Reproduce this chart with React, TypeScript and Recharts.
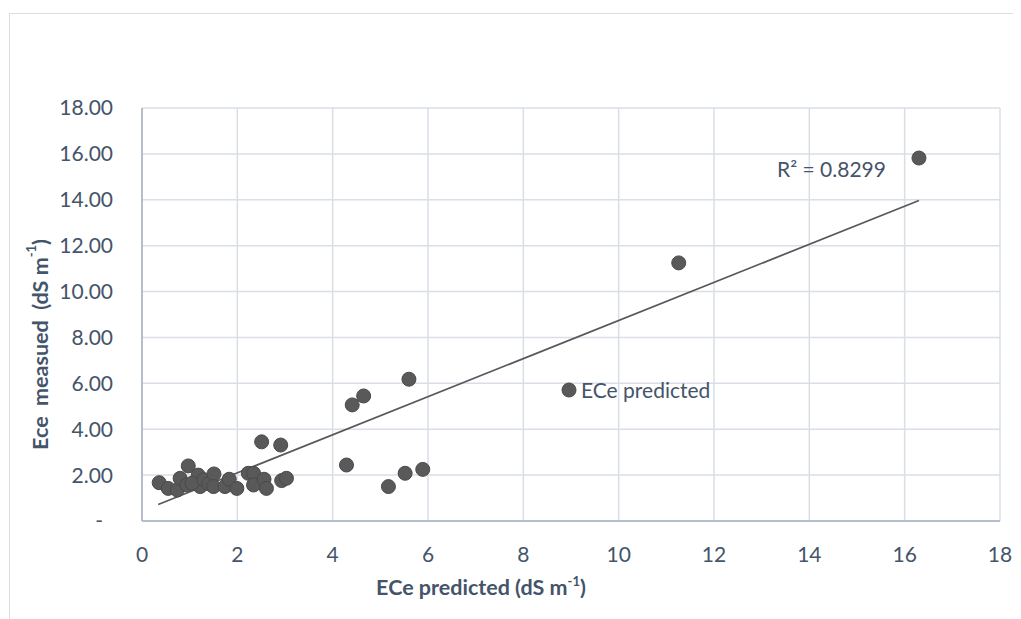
import React from 'react';
import {
  ScatterChart, Scatter, XAxis, YAxis, CartesianGrid, Legend, Label, Customized,
} from 'recharts';

const measuredPoints = [
  { x: 0.36, y: 1.67 }, { x: 0.55, y: 1.42 }, { x: 0.74, y: 1.35 }, { x: 0.80, y: 1.86 },
  { x: 0.94, y: 1.57 }, { x: 0.97, y: 2.40 }, { x: 1.18, y: 2.00 }, { x: 1.22, y: 1.50 },
  { x: 1.05, y: 1.65 }, { x: 1.30, y: 1.80 }, { x: 1.40, y: 1.62 }, { x: 1.51, y: 2.05 },
  { x: 1.50, y: 1.50 }, { x: 1.74, y: 1.50 }, { x: 1.83, y: 1.82 }, { x: 1.99, y: 1.42 },
  { x: 2.23, y: 2.08 }, { x: 2.34, y: 2.08 }, { x: 2.34, y: 1.57 }, { x: 2.56, y: 1.82 },
  { x: 2.61, y: 1.42 }, { x: 2.93, y: 1.76 }, { x: 3.03, y: 1.86 }, { x: 2.51, y: 3.45 },
  { x: 2.91, y: 3.31 }, { x: 4.29, y: 2.44 }, { x: 5.17, y: 1.50 }, { x: 5.52, y: 2.08 },
  { x: 5.89, y: 2.25 }, { x: 4.41, y: 5.06 }, { x: 4.65, y: 5.45 }, { x: 5.60, y: 6.18 },
  { x: 11.26, y: 11.25 }, { x: 16.30, y: 15.82 },
];

const trendLine = [
  { x: 0.34, y: 0.72 },
  { x: 16.30, y: 13.97 },
];

const xTicks = [0, 2, 4, 6, 8, 10, 12, 14, 16, 18];
const yTicks = [0, 2, 4, 6, 8, 10, 12, 14, 16, 18];
const seriesName = 'ECe predicted';
const r2Text = 'R\u00B2 = 0.8299';

const FONT = 'Lato, "Open Sans", sans-serif';
const TEXT = '#44546a';
const POINT = '#595959';

const Dot = (props: any) => {
  const { cx, cy } = props;
  if (cx == null || cy == null) return <g />;
  return <circle cx={cx} cy={cy} r={7} fill={POINT} stroke="#4a4a4a" strokeWidth={1} />;
};

const NoShape = () => <g />;

const YTick = (props: any) => {
  const { x, y, payload } = props;
  const v = payload.value;
  const txt = v === 0 ? '-' : v.toFixed(2);
  return (
    <text x={v === 0 ? x - 10 : x} y={y} dy="0.355em" textAnchor="end" fill={TEXT}
      fontSize={21} fontFamily={FONT}>{txt}</text>
  );
};

const XTitle = (props: any) => {
  const vb = props.viewBox;
  const cx = vb.x + vb.width / 2 - 90;
  return (
    <text x={cx} y={vb.y + 74} textAnchor="middle" fill={TEXT} fontSize={21.5}
      fontWeight={700} fontFamily={FONT}>
      ECe predicted (dS m<tspan dy={-9} fontSize={13}>-1</tspan><tspan dy={9}>)</tspan>
    </text>
  );
};

const YTitle = (props: any) => {
  const vb = props.viewBox;
  const cx = 32;
  const cy = vb.y + vb.height / 2 + 30;
  return (
    <text x={cx} y={cy} transform={`rotate(-90 ${cx} ${cy})`} textAnchor="middle"
      dominantBaseline="central" fill={TEXT} fontSize={21.5} fontWeight={700} fontFamily={FONT}>
      {'Ece\u00A0 measued\u00A0 (dS m'}<tspan dy={-9} fontSize={13}>-1</tspan><tspan dy={9}>)</tspan>
    </text>
  );
};

const R2Label = () => (
  <text x={769} y={169} fill={TEXT} fontSize={21} fontFamily={FONT}>{r2Text}</text>
);

const LegendContent = () => (
  <div style={{ display: 'flex', alignItems: 'center', fontFamily: FONT, fontSize: 21, color: TEXT, whiteSpace: 'nowrap' }}>
    <svg width={16} height={16} style={{ marginRight: 4 }}>
      <circle cx={8} cy={8} r={7} fill={POINT} stroke="#4a4a4a" strokeWidth={1} />
    </svg>
    <span>{seriesName}</span>
  </div>
);

export default function App() {
  return (
    <div style={{ position: 'relative', width: 1013, height: 611, overflow: 'hidden', background: '#fff' }}>
      <div style={{ position: 'absolute', left: 1, top: 5, width: 2000, height: 2000, border: '1.5px solid #dadde4', boxSizing: 'border-box' }} />
      <div style={{ position: 'absolute', left: 0, top: 0 }}>
        <ScatterChart width={1013} height={611} margin={{ top: 100, right: 21, bottom: 38, left: 0 }}>
          <CartesianGrid stroke="#d9dee7" strokeWidth={1.5} horizontalValues={yTicks} verticalValues={xTicks} />
          <XAxis type="number" dataKey="x" domain={[0, 18]} ticks={xTicks} interval={0}
            allowDataOverflow height={60} tickLine={false} tickSize={0} tickMargin={26}
            axisLine={{ stroke: '#a7b1c2', strokeWidth: 1.5 }}
            tick={{ fill: TEXT, fontSize: 21, fontFamily: FONT }}>
            <Label content={XTitle} />
          </XAxis>
          <YAxis type="number" dataKey="y" domain={[0, 18]} ticks={yTicks} interval={0}
            allowDataOverflow width={134} tickLine={false} tickSize={0} tickMargin={29}
            axisLine={{ stroke: '#a7b1c2', strokeWidth: 1.5 }} tick={<YTick />}>
            <Label content={YTitle} />
          </YAxis>
          <Scatter name="trend" data={trendLine} legendType="none" line={{ stroke: '#595959', strokeWidth: 1.75 }}
            shape={NoShape} isAnimationActive={false} />
          <Scatter name={seriesName} data={measuredPoints} fill={POINT} shape={Dot} isAnimationActive={false} />
          <Legend layout="horizontal" verticalAlign="middle" align="center" content={LegendContent}
            wrapperStyle={{ left: 553, top: 369, width: 'auto', height: 'auto' }} />
          <Customized component={R2Label} />
        </ScatterChart>
      </div>
    </div>
  );
}
